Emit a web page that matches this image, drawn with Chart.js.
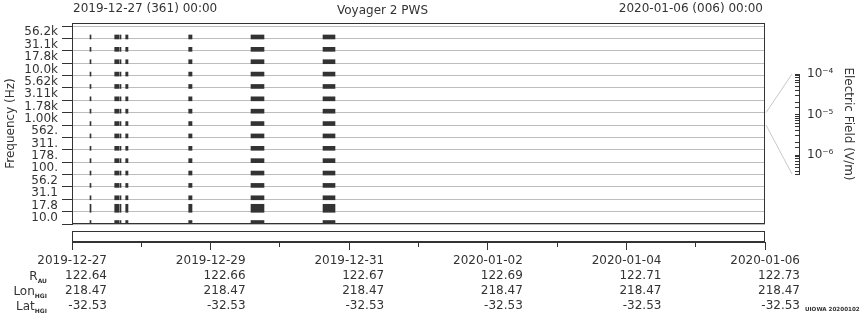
<!DOCTYPE html>
<html>
<head>
<meta charset="utf-8">
<script src="https://cdn.jsdelivr.net/npm/chart.js@4.4.1/dist/chart.umd.min.js"></script>
<style>
  html, body { margin: 0; padding: 0; background: #fff; }
  #wrap { position: relative; width: 860px; height: 320px; overflow: hidden;
          font-family: 'DejaVu Sans', sans-serif; font-size: 12px; color: #333; }
  #wrap canvas { position: absolute; }
  .txt { position: absolute; white-space: nowrap; line-height: 14px; }
  .lab { text-align: right; right: 813px; }
  .lab sub { font-size: 6px; font-weight: bold; vertical-align: -3px; }
</style>
</head>
<body>
<div id="wrap">
  <canvas id="main" width="860" height="228" style="left:0;top:0"></canvas>
  <canvas id="cbar" width="100" height="228" style="left:760px;top:0"></canvas>
  <canvas id="strip" width="860" height="94" style="left:0;top:226px"></canvas>
  <div class="txt" style="left:73px;top:1px">2019-12-27 (361) 00:00</div>
  <div class="txt" style="right:97px;top:1px">2020-01-06 (006) 00:00</div>
  <div class="txt lab" style="top:269px">R<sub>AU</sub></div>
  <div class="txt lab" style="top:284px">Lon<sub>HGI</sub></div>
  <div class="txt lab" style="top:299px">Lat<sub>HGI</sub></div>
  <div class="txt" style="left:805px;top:302px;font-size:5.6px;font-weight:bold">UIOWA 20200102</div>
</div>
<script>
// frequency channels, lowest first
const freqLabels = ['10.0', '17.8', '31.1', '56.2', '100.', '178.', '311.', '562.',
    '1.00k', '1.78k', '3.11k', '5.62k', '10.0k', '17.8k', '31.1k', '56.2k'];
// bursts, hours after 2019-12-27 00:00
const eventStart = [6.23, 14.79, 16.62, 18.60, 40.42, 61.99, 86.93];
const eventEnd = [6.58, 16.28, 16.97, 19.39, 41.56, 66.49, 91.08];
// channel where the bursts look stronger
const strongChannels = ['17.8'];

// bottom axis: every 2 days
const tickDates = ['2019-12-27', '2019-12-29', '2019-12-31', '2020-01-02', '2020-01-04', '2020-01-06'];
const rAu = ['122.64', '122.66', '122.67', '122.69', '122.71', '122.73'];
const lonHgi = ['218.47', '218.47', '218.47', '218.47', '218.47', '218.47'];
const latHgi = ['-32.53', '-32.53', '-32.53', '-32.53', '-32.53', '-32.53'];

// colour bar range, V/m
const fieldMin = 3.4e-7;
const fieldMax = 1e-4;

const spanHours = 240;
const ink = '#333';

Chart.defaults.font.family = "'DejaVu Sans', sans-serif";
Chart.defaults.font.size = 12;
Chart.defaults.color = ink;

function channelBars(labels, lift) {
    const bars = [];
    labels.forEach(function(lbl) {
        const ch = freqLabels.indexOf(lbl);
        for (let k = 0; k < eventStart.length; k++) {
            bars.push({y: ch + lift, x: [eventStart[k], eventEnd[k]]});
        }
    });
    return bars;
}

const framePlugin = {
    id: 'frame',
    afterDraw(chart) {
        const a = chart.chartArea;
        const ctx = chart.ctx;
        ctx.save();
        ctx.strokeStyle = ink;
        ctx.lineWidth = 1;
        ctx.strokeRect(Math.round(a.left) + 0.5, Math.round(a.top) + 0.5,
            Math.round(a.right - a.left) - 1, Math.round(a.bottom - a.top) - 1);
        ctx.restore();
    }
};

const normal = freqLabels.filter(l => strongChannels.indexOf(l) < 0);

const mainChart = new Chart(document.getElementById('main'), {
    type: 'bar',
    data: {
        datasets: [
            {data: channelBars(normal, 0.12), barThickness: 4,
             grouped: false, backgroundColor: ink, borderWidth: 0},
            {data: channelBars(strongChannels, 0.27), barThickness: 8,
             grouped: false, backgroundColor: ink, borderWidth: 0}
        ]
    },
    options: {
        indexAxis: 'y',
        responsive: false,
        animation: false,
        layout: {padding: {left: 0, right: 95, top: 0, bottom: 4}},
        plugins: {
            legend: {display: false},
            tooltip: {enabled: false},
            title: {display: true, text: 'Voyager 2 PWS', color: ink,
                font: {size: 12, weight: 'normal'}, padding: {top: 4, bottom: 4.6}}
        },
        scales: {
            x: {type: 'linear', min: 0, max: spanHours, display: false},
            y: {
                type: 'linear', position: 'left', min: 0, max: 16.25, weight: 0, offset: false,
                afterBuildTicks: s => { s.ticks = freqLabels.map((_, i) => ({value: i})).concat([{value: freqLabels.length}]); },
                afterFit: s => { s.width = 10; s.paddingTop = 0; s.paddingBottom = 0; },
                ticks: {display: false},
                grid: {offset: false, color: '#bdbdbd', tickColor: ink, tickLength: 10},
                border: {color: ink}
            },
            yl: {
                type: 'linear', position: 'left', min: 0, max: 16.25, weight: 1, offset: false,
                afterBuildTicks: s => { s.ticks = freqLabels.map((_, i) => ({value: i + 0.5})); },
                afterFit: s => { s.width = 62; s.paddingTop = 0; s.paddingBottom = 0; },
                ticks: {padding: 4, autoSkip: false, callback: v => freqLabels[Math.floor(v)]},
                grid: {display: false, drawTicks: false, offset: false},
                border: {display: false},
                title: {display: true, text: 'Frequency (Hz)', padding: {top: 4, bottom: 0}}
            }
        }
    },
    plugins: [framePlugin]
});

new Chart(document.getElementById('strip'), {
    type: 'scatter',
    data: {datasets: [{data: []}]},
    options: {
        responsive: false,
        animation: false,
        layout: {padding: {left: 72, right: 95, top: 5, bottom: 0}},
        plugins: {legend: {display: false}, tooltip: {enabled: false}},
        scales: {
            x: {
                type: 'linear', min: 0, max: spanHours,
                afterFit: s => { s.height = 78; s.paddingLeft = 0; s.paddingRight = 0; },
                grid: {
                    drawOnChartArea: false, tickLength: 8, tickColor: ink,
                    tickBorderDash: c => (c.tick && c.tick.value % 48) ? [4, 20] : []
                },
                border: {color: ink},
                ticks: {
                    stepSize: 24, autoSkip: false, maxRotation: 0, minRotation: 0,
                    align: 'end', labelOffset: 35, padding: 3,
                    font: {size: 12, lineHeight: 1.27},
                    callback: v => {
                        if (v % 48) return '';
                        const i = v / 48;
                        return [tickDates[i], rAu[i], lonHgi[i], latHgi[i]];
                    }
                }
            },
            y: {display: false}
        }
    },
    plugins: [framePlugin]
});

const supDigits = {'-': '\u207B', '0': '\u2070', '1': '\u00B9', '2': '\u00B2', '3': '\u00B3',
    '4': '\u2074', '5': '\u2075', '6': '\u2076', '7': '\u2077', '8': '\u2078', '9': '\u2079'};

const cbarLeft = 760;
const fanPlugin = {
    id: 'fan',
    afterDraw(chart) {
        const a = chart.chartArea;
        const ctx = chart.ctx;
        const ys = mainChart.scales.y;
        const band = freqLabels.indexOf('1.00k');
        const x0 = mainChart.chartArea.right - cbarLeft + 1;
        ctx.save();
        ctx.strokeStyle = '#c8c8c8';
        ctx.lineWidth = 1;
        ctx.beginPath();
        ctx.moveTo(x0, ys.getPixelForValue(band + 1));
        ctx.lineTo(a.left - 3, a.top);
        ctx.moveTo(x0, ys.getPixelForValue(band));
        ctx.lineTo(a.left - 3, a.bottom);
        ctx.stroke();
        ctx.restore();
    }
};

new Chart(document.getElementById('cbar'), {
    type: 'scatter',
    data: {datasets: [{data: []}]},
    options: {
        responsive: false,
        animation: false,
        layout: {padding: {left: 35, right: 0, top: 74, bottom: 54}},
        plugins: {legend: {display: false}, tooltip: {enabled: false}},
        scales: {
            x: {type: 'linear', min: 0, max: 1, display: false},
            y: {
                type: 'logarithmic', position: 'right', min: fieldMin, max: fieldMax,
                afterFit: s => { s.width = 61; s.paddingTop = 0; s.paddingBottom = 0; },
                grid: {color: ink, drawTicks: false},
                border: {color: ink},
                ticks: {
                    padding: 8, autoSkip: false,
                    callback: v => {
                        const e = Math.log10(v);
                        const r = Math.round(e);
                        if (Math.abs(e - r) > 1e-6) return '';
                        return '10' + String(r).split('').map(c => supDigits[c]).join('');
                    }
                },
                title: {display: true, text: 'Electric Field (V/m)', padding: {top: 5, bottom: 0}}
            }
        }
    },
    plugins: [fanPlugin]
});
</script>
</body>
</html>
